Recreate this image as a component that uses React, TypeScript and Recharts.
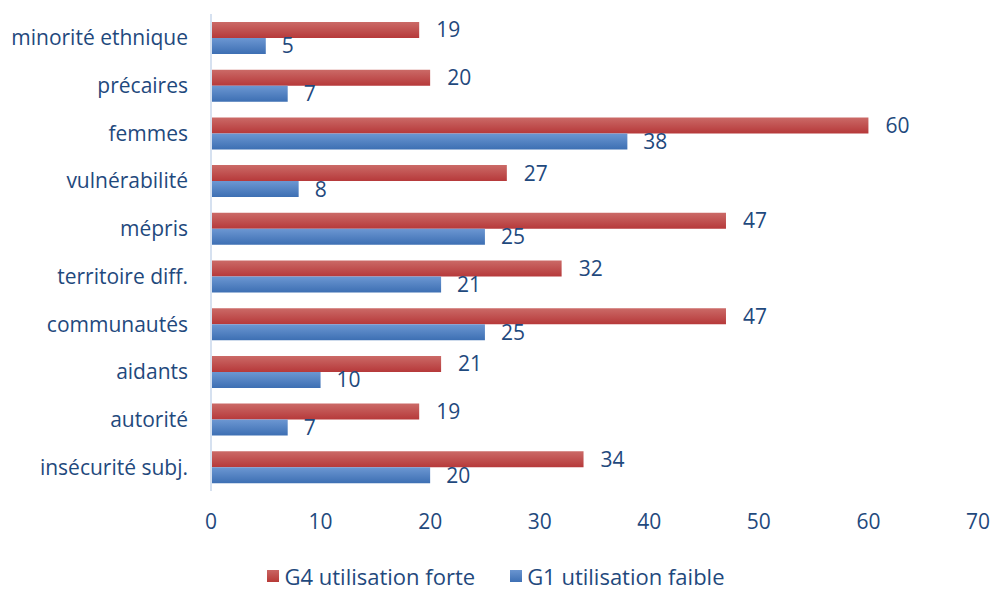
import { Bar, BarChart, LabelList, Legend, XAxis, YAxis } from 'recharts'

const categories = [
  'minorité ethnique',
  'précaires',
  'femmes',
  'vulnérabilité',
  'mépris',
  'territoire diff.',
  'communautés',
  'aidants',
  'autorité',
  'insécurité subj.',
]
const g4Forte = [19, 20, 60, 27, 47, 32, 47, 21, 19, 34]
const g1Faible = [5, 7, 38, 8, 25, 21, 25, 10, 7, 20]
const xTicks = [0, 10, 20, 30, 40, 50, 60, 70]

const TEXT = '#1F497D'
const FONT = '"Open Sans", sans-serif'
const FS = 21

const data = categories.map((name, i) => ({ name, g4: g4Forte[i], g1: g1Faible[i] }))

// legend drawn by hand so the swatches stay square and gradient-ish
const ChartLegend = () => (
  <div style={{ display: 'flex', justifyContent: 'center', gap: 35, fontFamily: FONT, fontSize: 22, color: TEXT, lineHeight: '30px', paddingLeft: 14 }}>
    <span style={{ display: 'flex', alignItems: 'center', gap: 5 }}>
      <span style={{ width: 12, height: 12, background: 'linear-gradient(#c96563, #b73a37)' }} />
      G4 utilisation forte
    </span>
    <span style={{ display: 'flex', alignItems: 'center', gap: 5 }}>
      <span style={{ width: 12, height: 12, background: 'linear-gradient(#6a95d0, #3e70b4)' }} />
      G1 utilisation faible
    </span>
  </div>
)

export default function App() {
  return (
    <div style={{ position: 'absolute', left: 0, top: 0, background: '#fff' }}>
      <BarChart
        width={994}
        height={590}
        data={data}
        layout="vertical"
        margin={{ top: 14, right: 16, bottom: 0, left: 0 }}
        barSize={16}
        barGap={0}
      >
        <defs>
          <linearGradient id="gradRed" x1="0" y1="0" x2="0" y2="1">
            <stop offset="0%" stopColor="#cb6a67" />
            <stop offset="100%" stopColor="#b6393a" />
          </linearGradient>
          <linearGradient id="gradBlue" x1="0" y1="0" x2="0" y2="1">
            <stop offset="0%" stopColor="#6c97d2" />
            <stop offset="100%" stopColor="#3d6fb3" />
          </linearGradient>
        </defs>
        <XAxis
          type="number"
          domain={[0, 70]}
          ticks={xTicks}
          axisLine={false}
          tickLine={false}
          tickSize={0}
          tickMargin={23}
          height={70}
          tick={{ fill: TEXT, fontSize: FS, fontFamily: FONT }}
        />
        <YAxis
          type="category"
          dataKey="name"
          width={211}
          axisLine={{ stroke: '#d6e1f0', strokeWidth: 2 }}
          tickLine={false}
          tickSize={0}
          tickMargin={23}
          tick={{ fill: TEXT, fontSize: FS, fontFamily: FONT }}
        />
        <Legend verticalAlign="bottom" height={29} wrapperStyle={{ bottom: 0 }} content={<ChartLegend />} />
        <Bar dataKey="g4" name="G4 utilisation forte" fill="url(#gradRed)" isAnimationActive={false}>
          <LabelList dataKey="g4" position="right" offset={17} fill={TEXT} fontSize={FS} fontFamily={FONT} />
        </Bar>
        <Bar dataKey="g1" name="G1 utilisation faible" fill="url(#gradBlue)" isAnimationActive={false}>
          <LabelList dataKey="g1" position="right" offset={16} fill={TEXT} fontSize={FS} fontFamily={FONT} />
        </Bar>
      </BarChart>
    </div>
  )
}
